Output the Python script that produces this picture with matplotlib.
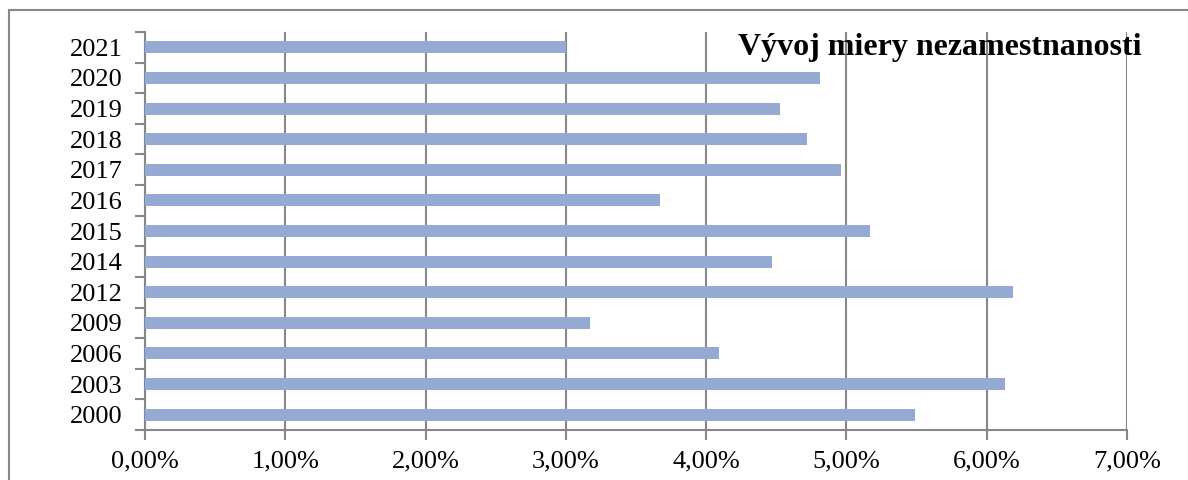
import matplotlib
matplotlib.use('Agg')
import matplotlib.pyplot as plt
from matplotlib.patches import Rectangle
from matplotlib.ticker import FixedLocator, FuncFormatter
import numpy as np

# Data
YEARS = ['2000', '2003', '2006', '2009', '2012', '2014', '2015',
         '2016', '2017', '2018', '2019', '2020', '2021']
RATES = [5.49, 6.13, 4.09, 3.17, 6.19, 4.47, 5.17,
         3.67, 4.96, 4.72, 4.53, 4.81, 3.00]   # percent

TITLE = 'Vývoj miery nezamestnanosti'
BAR_COLOR = '#94AAD3'
GRID_COLOR = '#878787'

plt.rcParams['font.family'] = ['Liberation Serif', 'DejaVu Serif']

fig = plt.figure(figsize=(11.88, 4.8), dpi=100)
ax = fig.add_axes([145 / 1188, 1 - 430 / 480, (1127 - 145) / 1188, (430 - 32) / 480])

y = np.arange(len(YEARS))
ax.barh(y, RATES, height=0.39, color=BAR_COLOR, zorder=3)

ax.set_xlim(0, 7)
ax.set_ylim(-0.5, len(YEARS) - 0.5)

# x axis: ticks at every percent, formatted with decimal comma
ax.xaxis.set_major_locator(FixedLocator(np.arange(0, 8)))
ax.xaxis.set_major_formatter(FuncFormatter(lambda v, p: f'{v:.2f}%'.replace('.', ',')))
ax.tick_params(axis='x', direction='out', length=7, width=1.5, color=GRID_COLOR,
               labelsize=19, pad=8)
ax.grid(axis='x', color=GRID_COLOR, linewidth=1.5, zorder=0)

# y axis: tick marks on category boundaries, labels at centres
ax.yaxis.set_major_locator(FixedLocator(np.arange(-0.5, len(YEARS), 1.0)))
ax.yaxis.set_major_formatter(FuncFormatter(lambda v, p: ''))
ax.yaxis.set_minor_locator(FixedLocator(y))
ax.set_yticklabels(YEARS, minor=True)
ax.tick_params(axis='y', which='major', direction='out', length=7, width=1.5,
               color=GRID_COLOR)
ax.tick_params(axis='y', which='minor', length=0, labelsize=19, pad=16)

for side in ['top', 'right']:
    ax.spines[side].set_visible(False)
for side in ['left', 'bottom']:
    ax.spines[side].set_color(GRID_COLOR)
    ax.spines[side].set_linewidth(1.5)

fig.text(1142 / 1188, 1 - 47 / 480, TITLE, ha='right', va='center',
         fontsize=23, fontweight='bold')

# outer chart border (runs off the right and bottom edge like the source)
fig.patches.append(Rectangle((9 / 1188, -0.1), 1.2, 1 - 10 / 480 + 0.1,
                             transform=fig.transFigure, fill=False,
                             edgecolor=GRID_COLOR, linewidth=1.5))

fig.savefig('out.png', dpi=100)
